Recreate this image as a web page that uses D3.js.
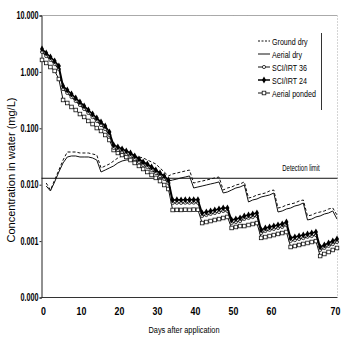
<!DOCTYPE html>
<html><head><meta charset="utf-8">
<script src="https://cdn.jsdelivr.net/npm/d3@7"></script>
<style>
html,body{margin:0;padding:0;background:#fff;}
svg{display:block;}
text{fill:#000;}
</style></head>
<body><svg id="c" width="342" height="337"></svg>
<script>
const days = d3.range(0, 71);
const xTickLabels = ["0","10","20","30","40","50","60","70"];
const yTickValues = [10, 1, 0.1, 0.01, 0.001, 0.0001];
const yTickLabels = ["10.000","1.000","0.100","0.010","0.001","0.000"];
const seriesNames = ["Ground dry","Aerial dry","SCI/IRT 36","SCI/IRT 24","Aerial ponded"];
const detectionLimit = 0.013;

const groundDry = [null,0.0107,0.00805,0.0121,0.0182,0.0274,0.0380,0.0380,0.0380,0.0365,0.0365,0.0365,0.0350,0.0336,
 0.0198,0.0215,0.0233,0.0263,0.0298,0.0323,0.0336,0.0336,0.0323,0.0310,0.0298,0.0274,0.0253,0.0233,0.0198,0.0168,0.0143,
 0.0155,0.0161,0.0168,0.0175,0.0182,
 0.0107,0.0112,0.0116,0.0121,0.0126,0.0132,0.0137,
 0.00805,0.00874,0.00911,0.00988,0.0103,0.0112,
 0.00581,0.00605,0.00657,0.00684,0.00713,0.00774,0.00805,
 0.00386,0.00402,0.00437,0.00455,0.00474,0.00514,0.00536,
 0.00279,0.00290,0.00315,0.00328,0.00342,0.00371,0.00386,
 0.00290];
const aerialDry = [null,0.00948,0.00774,0.0112,0.0168,0.0243,0.0310,0.0323,0.0323,0.0310,0.0310,0.0310,0.0298,0.0274,
 0.0168,0.0182,0.0198,0.0215,0.0243,0.0263,0.0274,0.0274,0.0263,0.0253,0.0243,0.0224,0.0206,0.0190,0.0161,0.0137,0.0116,
 0.0121,0.0126,0.0132,0.0137,0.0143,
 0.00874,0.00911,0.00948,0.00988,0.0103,0.0107,0.0112,
 0.00713,0.00743,0.00805,0.00874,0.00911,0.00988,
 0.00494,0.00536,0.00558,0.00605,0.00631,0.00657,0.00713,
 0.00328,0.00342,0.00371,0.00386,0.00419,0.00437,0.00474,
 0.00237,0.00246,0.00268,0.00279,0.00302,0.00315,0.00342,
 0.00246];
const sci36 = [2.26,1.91,1.63,1.38,1.12,
 0.497,0.423,0.359,0.305,0.259,0.220,0.187,0.158,0.135,0.114,0.097,0.076,
 0.0448,0.0412,0.0381,0.0350,0.0323,0.0286,0.0253,0.0224,0.0206,0.0182,0.0161,0.0142,0.0127,0.0107,
 0.00474,0.00478,0.00476,0.00480,0.00478,0.00481,0.00479,
 0.00279,0.00290,0.00303,0.00315,0.00328,0.00342,0.00342,
 0.00210,0.00218,0.00227,0.00247,0.00257,0.00267,0.00279,
 0.00139,0.00151,0.00158,0.00164,0.00171,0.00178,0.00193,
 0.00101,0.00104,0.00109,0.00113,0.00119,0.00123,0.00128,
 0.000696,0.000755,0.000819,0.000885,0.000965];
const sci24 = [2.55,2.16,1.84,1.56,1.27,
 0.562,0.478,0.406,0.345,0.293,0.249,0.211,0.179,0.152,0.129,0.110,0.086,
 0.0506,0.0466,0.0430,0.0396,0.0365,0.0323,0.0286,0.0253,0.0233,0.0206,0.0182,0.0161,0.0143,0.0121,
 0.00536,0.00540,0.00538,0.00542,0.00540,0.00543,0.00541,
 0.00315,0.00328,0.00342,0.00356,0.00371,0.00386,0.00386,
 0.00237,0.00246,0.00257,0.00279,0.00290,0.00302,0.00315,
 0.00157,0.00171,0.00178,0.00185,0.00193,0.00201,0.00218,
 0.00114,0.00118,0.00123,0.00128,0.00134,0.00139,0.00145,
 0.000786,0.000853,0.000926,0.00100,0.00109];
const aerialPonded = [1.63,1.44,1.22,1.04,0.748,
 0.318,0.281,0.239,0.211,0.179,0.159,0.135,0.119,0.101,0.0896,0.0761,0.0620,
 0.0412,0.0365,0.0336,0.0310,0.0274,0.0243,0.0215,0.0190,0.0168,0.0149,0.0132,0.0116,0.00988,0.00839,
 0.00356,0.00358,0.00357,0.00360,0.00358,0.00361,0.00359,
 0.00209,0.00218,0.00227,0.00237,0.00246,0.00257,0.00268,
 0.00171,0.00178,0.00185,0.00185,0.00193,0.00201,0.00209,
 0.00114,0.00118,0.00123,0.00128,0.00134,0.00139,0.00145,
 0.000786,0.000819,0.000853,0.000889,0.000926,0.000964,0.00100,
 0.000544,0.000591,0.000641,0.000696,0.000755];

const FONT = "'Liberation Sans',Arial,sans-serif";
const svg = d3.select("#c");
const L = 41.5, R = 337.5, T = 15.5, B = 297.5;
const x = d3.scaleLinear().domain([0, 70]).range([42, 337]);
const xLab = d3.scaleLinear().domain([0, 60, 70]).range([43, 271, 335]);
const y = d3.scaleLog().domain([0.0001, 10]).range([B, T]);

function label(px, py, str, size, sx, anchor, weight) {
  return svg.append("text")
    .attr("transform", `translate(${px},${py}) scale(${sx},1)`)
    .attr("text-anchor", anchor || "start")
    .attr("font-family", FONT).attr("font-size", size)
    .attr("font-weight", weight || "normal").text(str);
}

// frame
svg.append("line").attr("x1", L).attr("x2", R).attr("y1", T).attr("y2", T)
  .attr("stroke", "#555").attr("stroke-width", 1).attr("stroke-dasharray", "1,1");
svg.append("line").attr("x1", R).attr("x2", R).attr("y1", T).attr("y2", B)
  .attr("stroke", "#aaa").attr("stroke-width", 1).attr("stroke-dasharray", "1,2");
svg.append("line").attr("x1", L).attr("x2", R).attr("y1", B).attr("y2", B)
  .attr("stroke", "#333").attr("stroke-width", 1);

// y axis
const yAxis = d3.axisLeft(y).tickValues(yTickValues).tickSize(2)
  .tickFormat((d, i) => yTickLabels[i]);
const gy = svg.append("g").attr("transform", `translate(${L},0)`).call(yAxis);
gy.select(".domain").attr("stroke", "#222");
gy.selectAll("line").attr("stroke", "#222");
gy.selectAll("text").attr("font-family", FONT).attr("font-size", 10)
  .attr("font-weight", "bold").attr("x", -4).attr("transform", "scale(0.72,1)");

// x axis labels
const xAxis = d3.axisBottom(xLab).tickValues(d3.range(0, 71, 10)).tickSize(0)
  .tickFormat((d, i) => xTickLabels[i]);
const gx = svg.append("g").attr("transform", `translate(0,${B})`).call(xAxis);
gx.select(".domain").remove();
gx.selectAll("text").attr("font-family", FONT).attr("font-size", 11)
  .attr("font-weight", "bold").attr("dy", "1.35em").attr("transform", "scale(0.8,1)");

// titles
svg.append("text").attr("transform", "translate(15,170) rotate(-90)")
  .attr("text-anchor", "middle").attr("font-family", FONT).attr("font-size", 11)
  .text("Concentration in water (mg/L)");
label(184, 333, "Days after application", 9.5, 0.78, "middle");

// detection limit
svg.append("line").attr("x1", L).attr("x2", R).attr("y1", y(detectionLimit)).attr("y2", y(detectionLimit))
  .attr("stroke", "#111").attr("stroke-width", 1);
label(301, y(detectionLimit) - 7, "Detection limit", 9.5, 0.63, "middle");

const line = d3.line().defined(d => d[1] != null).x(d => x(d[0])).y(d => y(d[1]));
function pts(arr) { return days.map((d, i) => [d, arr[i]]); }

// ground dry (dashed)
svg.append("path").attr("d", line(pts(groundDry))).attr("fill", "none")
  .attr("stroke", "#111").attr("stroke-width", 1).attr("stroke-dasharray", "3,2");
// aerial dry (solid)
svg.append("path").attr("d", line(pts(aerialDry))).attr("fill", "none")
  .attr("stroke", "#111").attr("stroke-width", 1);
// aerial ponded
svg.append("path").attr("d", line(pts(aerialPonded))).attr("fill", "none")
  .attr("stroke", "#111").attr("stroke-width", 1);
svg.append("g").selectAll("rect").data(pts(aerialPonded)).join("rect")
  .attr("x", d => x(d[0]) - 1.8).attr("y", d => y(d[1]) - 1.8)
  .attr("width", 3.6).attr("height", 3.6).attr("fill", "#fff")
  .attr("stroke", "#111").attr("stroke-width", 0.8);
// SCI 36
svg.append("path").attr("d", line(pts(sci36))).attr("fill", "none")
  .attr("stroke", "#111").attr("stroke-width", 1.2);
svg.append("g").selectAll("circle").data(pts(sci36)).join("circle")
  .attr("cx", d => x(d[0])).attr("cy", d => y(d[1])).attr("r", 1.6)
  .attr("fill", "#fff").attr("stroke", "#111").attr("stroke-width", 0.8);
// SCI 24
svg.append("path").attr("d", line(pts(sci24))).attr("fill", "none")
  .attr("stroke", "#000").attr("stroke-width", 1.6);
const diamond = d3.symbol().type(d3.symbolDiamond).size(14);
svg.append("g").selectAll("path").data(pts(sci24)).join("path")
  .attr("d", diamond).attr("transform", d => `translate(${x(d[0])},${y(d[1])})`)
  .attr("fill", "#000");

// legend
const legY = [41, 54, 67, 80, 93];
const lg = svg.append("g");
lg.append("line").attr("x1", 321.5).attr("x2", 321.5).attr("y1", 33).attr("y2", 110)
  .attr("stroke", "#333").attr("stroke-width", 1);
seriesNames.forEach((name, i) => {
  const yy = legY[i];
  const ln = lg.append("line").attr("x1", 258).attr("x2", 270).attr("y1", yy).attr("y2", yy)
    .attr("stroke", "#111").attr("stroke-width", i === 3 ? 1.6 : 1);
  if (i === 0) ln.attr("stroke-dasharray", "2,1.5");
  if (i === 2) lg.append("circle").attr("cx", 264).attr("cy", yy).attr("r", 1.6)
    .attr("fill", "#fff").attr("stroke", "#111").attr("stroke-width", 0.8);
  if (i === 3) lg.append("path").attr("d", diamond).attr("transform", `translate(264,${yy})`).attr("fill", "#000");
  if (i === 4) lg.append("rect").attr("x", 262.2).attr("y", yy - 1.8).attr("width", 3.6).attr("height", 3.6)
    .attr("fill", "#fff").attr("stroke", "#111").attr("stroke-width", 0.8);
  label(272, yy + 3.5, name, 9.5, 0.75, "start");
});
</script></body></html>
